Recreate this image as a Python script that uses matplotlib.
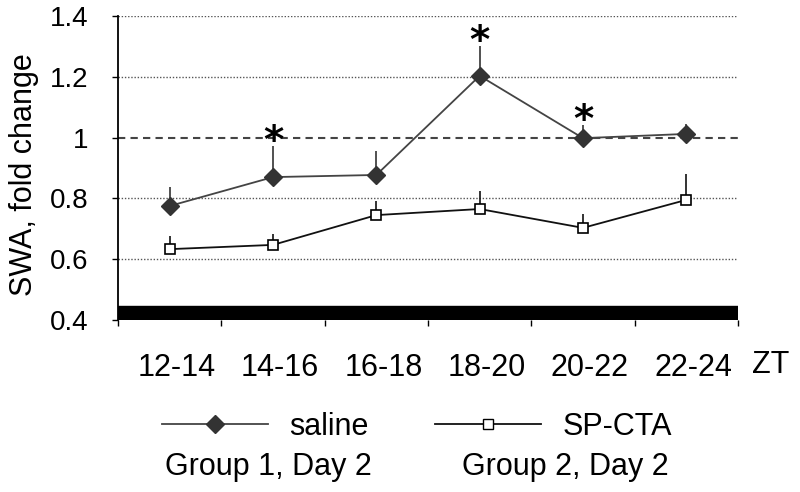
import matplotlib
matplotlib.use('Agg')
import matplotlib.pyplot as plt
import matplotlib.transforms as mtrans
from matplotlib.lines import Line2D

# data
periods = ['12-14', '14-16', '16-18', '18-20', '20-22', '22-24']
saline = [0.775, 0.870, 0.877, 1.203, 0.998, 1.012]
saline_err = [0.062, 0.102, 0.079, 0.097, 0.043, 0.033]
spcta = [0.633, 0.647, 0.745, 0.765, 0.703, 0.795]
spcta_err = [0.043, 0.036, 0.045, 0.059, 0.046, 0.085]
# periods marked as significant
stars = [1, 3, 4]

plt.rcParams['font.family'] = ['Liberation Sans', 'DejaVu Sans']

fig = plt.figure(figsize=(8, 4.92), dpi=100)
ax = fig.add_axes([0.1475, 0.3496, 0.775, 0.618])

x = [i + 0.5 for i in range(len(periods))]

# grid lines
for g in [0.6, 0.8, 1.2, 1.4]:
    ax.axhline(g, color='#555555', lw=1, ls=(0, (1, 1.3)), zorder=1)
ax.axhline(1.0, color='#444444', lw=1.5, ls=(0, (3.5, 2.5)), zorder=1)

# upper error bars only
ax.errorbar(x, saline, yerr=[[0] * 6, saline_err], fmt='none', ecolor='#333333',
            elinewidth=1.2, capsize=0, zorder=2)
ax.errorbar(x, spcta, yerr=[[0] * 6, spcta_err], fmt='none', ecolor='#111111',
            elinewidth=1.2, capsize=0, zorder=2)

ax.plot(x, saline, color='#444444', lw=1.3, marker='D', ms=9.5,
        mfc='#333333', mec='#333333', zorder=3)
ax.plot(x, spcta, color='#111111', lw=1.3, marker='s', ms=7.5,
        mfc='white', mec='black', mew=1.2, zorder=3)

for i in stars:
    top = saline[i] + saline_err[i]
    ax.text(x[i], top - 0.022, '*', ha='center', va='baseline', fontsize=28,
            fontweight='bold', family='DejaVu Sans')

# thick black bar along the bottom (dark phase)
ax.axhspan(0.4, 0.445, color='black', zorder=4)

ax.set_xlim(0, 6)
ax.set_ylim(0.4, 1.4)
ax.set_yticks([0.4, 0.6, 0.8, 1.0, 1.2, 1.4])
ax.set_yticklabels(['0.4', '0.6', '0.8', '1', '1.2', '1.4'])
ax.set_xticks(range(7))
ax.set_xticklabels([])
ax.set_xticks(x, minor=True)
ax.set_xticklabels(periods, minor=True)
ax.tick_params(axis='x', which='major', direction='out', length=4, width=1)
ax.tick_params(axis='x', which='minor', length=0, pad=24, labelsize=22)
ax.tick_params(axis='y', direction='out', length=4.5, width=1, labelsize=20, pad=17)
shift = mtrans.ScaledTranslation(7 / 100, 0, fig.dpi_scale_trans)
for lab in ax.get_xticklabels(minor=True):
    lab.set_transform(lab.get_transform() + shift)

for s in ['top', 'right', 'bottom']:
    ax.spines[s].set_visible(False)
ax.spines['left'].set_linewidth(1.3)

ax.set_ylabel('SWA, fold change', fontsize=22)
ax.yaxis.set_label_coords(-0.128, 0.477)

ax.text(6.32, -0.148, 'ZT', transform=ax.get_xaxis_transform(),
        ha='center', va='center', fontsize=22)

handles = [
    Line2D([], [], color='#444444', lw=1.3, marker='D', ms=9, mfc='#333333', mec='#333333'),
    Line2D([], [], color='#111111', lw=1.3, marker='s', ms=7, mfc='white', mec='black'),
]
fig.legend(handles, ['saline', 'SP-CTA'], ncol=2, frameon=False, fontsize=22,
           loc='center left', bbox_to_anchor=(0.2025, 0.132), borderpad=0,
           borderaxespad=0, handlelength=3.46, handletextpad=0.69, columnspacing=2.2)
fig.text(0.206, 0.051, 'Group 1, Day 2', ha='left', va='center', fontsize=22)
fig.text(0.5775, 0.051, 'Group 2, Day 2', ha='left', va='center', fontsize=22)

fig.savefig('out.png', dpi=100)
